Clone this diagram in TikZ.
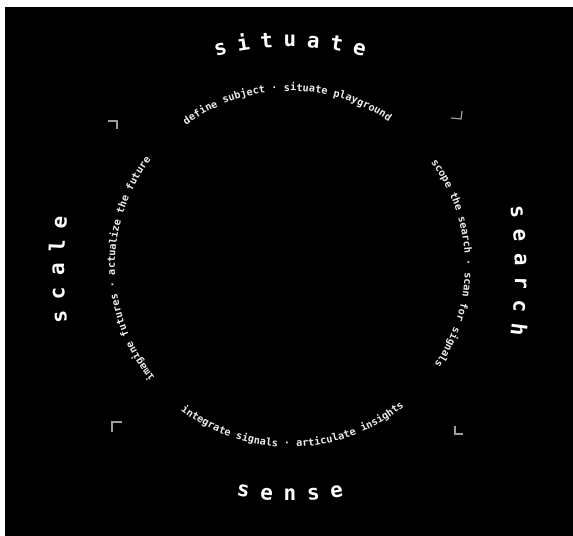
\documentclass[tikz,border=0pt]{standalone}
\usepackage{fontspec}
\newfontfamily\labelmono{DejaVu Sans Mono}
\usetikzlibrary{decorations.text,calc}
\begin{document}
\begin{tikzpicture}[x=1bp,y=1bp,
  outer/.style={text=white, font=\labelmono\bfseries\fontsize{21}{21}\selectfont, anchor=base, inner sep=0pt},
  cornermark/.style={draw=white!62!black, line width=1.2bp},
  arctext/.style={decorate, decoration={text along path, text align=center,
     text={|\labelmono\bfseries\fontsize{10.3}{12}\selectfont\color{white!92!black}|#1}}}
]
\fill[white] (0,0) rectangle (573,536);
\fill[black] (5,0) rectangle (573,529);
\useasboundingbox (0,0) rectangle (573,536);

\coordinate (C) at (290,270);

% inner texts
\path[arctext={define subject · situate playground}] (C) ++(151:175) arc[start angle=151, end angle=31, radius=175];
\path[arctext={scope the search · scan for signals}] (C) ++(61:175) arc[start angle=61, end angle=-59, radius=175];
\path[arctext={imagine futures · actualize the future}] (C) ++(241:175) arc[start angle=241, end angle=121, radius=175];
\path[arctext={integrate signals · articulate insights}] (C) ++(211:181) arc[start angle=211, end angle=331, radius=181];

% outer labels
\coordinate (Ctop) at (290,210);
\foreach \ch [count=\i from 0] in {s,i,t,u,a,t,e} {
  \pgfmathsetmacro\ang{90+(3-\i)*4.7}
  \pgfmathsetmacro\rot{\ang-90}
  \node[outer, rotate=\rot] (sit\i) at ($(Ctop)+(\ang:279)$) {\ch};
}
\coordinate (Cbot) at (290,321);
\foreach \ch [count=\i from 0] in {s,e,n,s,e} {
  \pgfmathsetmacro\ang{270+(\i-2)*4.8}
  \pgfmathsetmacro\rot{\ang+90}
  \node[outer, rotate=\rot] (sen\i) at ($(Cbot)+(\ang:286)$) {\ch};
}
\coordinate (Cright) at (71,265);
\foreach \ch [count=\i from 0] in {s,e,a,r,c,h} {
  \pgfmathsetmacro\ang{(2.5-\i)*3.0}
  \pgfmathsetmacro\rot{\ang-90}
  \node[outer, rotate=\rot] (sea\i) at ($(Cright)+(\ang:444)$) {\ch};
}
\coordinate (Cleft) at (508,266.5);
\foreach \ch [count=\i from 0] in {s,c,a,l,e} {
  \pgfmathsetmacro\ang{180+(2-\i)*3.02}
  \pgfmathsetmacro\rot{\ang-90}
  \node[outer, rotate=\rot] (sca\i) at ($(Cleft)+(\ang:444)$) {\ch};
}

% corner marks
\draw[cornermark] (108,415) -- (117,415) -- (117,407);
\draw[cornermark] (451,418) -- (461,417) -- (462,425);
\draw[cornermark] (112,104) -- (112,114) -- (122,114);
\draw[cornermark] (455,110) -- (455,102) -- (463,102);
\end{tikzpicture}
\end{document}
